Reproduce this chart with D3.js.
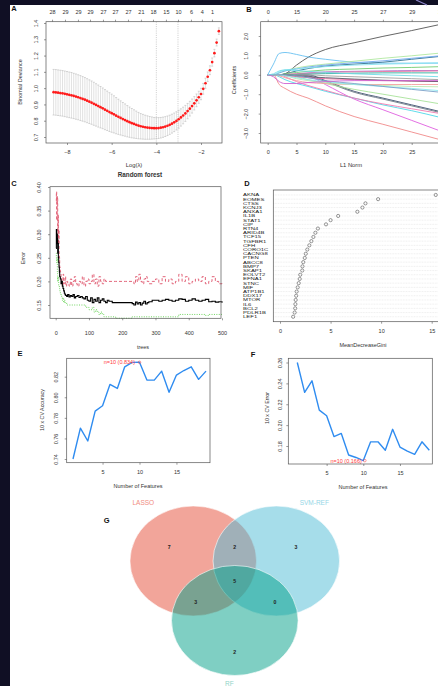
<!DOCTYPE html>
<html>
<head>
<meta charset="utf-8">
<script src="https://cdn.jsdelivr.net/npm/d3@7"></script>
<style>
  body { margin: 0; background: #100f24; }
  svg { display: block; }
  text { font-family: "Liberation Sans", Arial, sans-serif; }
</style>
</head>
<body>
<svg id="fig" width="438" height="686"></svg>
<script>
// ---------- A: LASSO cross-validation ----------
const lassoLogLambda = [-8.6,-8.5,-8.4,-8.3,-8.2,-8.1,-8.0,-7.9,-7.8,-7.7,-7.6,-7.5,-7.4,-7.3,-7.2,-7.1,-7.0,
  -6.9,-6.8,-6.7,-6.6,-6.5,-6.4,-6.3,-6.2,-6.1,-6.0,-5.9,-5.8,-5.7,-5.6,-5.5,-5.4,-5.3,-5.2,-5.1,-5.0,
  -4.9,-4.8,-4.7,-4.6,-4.5,-4.4,-4.3,-4.2,-4.1,-4.0,-3.9,-3.8,-3.7,-3.6,-3.5,-3.4,-3.3,-3.2,-3.1,-3.0,
  -2.9,-2.8,-2.7,-2.6,-2.5,-2.4,-2.3,-2.2,-2.1,-2.0,-1.9,-1.8,-1.7,-1.6,-1.5,-1.4,-1.3,-1.2];
const lassoMean = [.975,.974,.972,.970,.968,.965,.962,
  .959,.956,.952,.948,.944,.939,.934,.929,.923,.917,
  .911,.904,.897,.890,.883,.876,.868,.861,.853,.846,
  .839,.831,.824,.817,.810,.804,.797,.791,.785,.780,
  .775,.770,.766,.763,.760,.758,.756,.755,.754,.754,
  .755,.757,.760,.764,.769,.775,.782,.790,.799,.809,
  .820,.832,.845,.859,.874,.890,.907,.925,.944,.964,
  .996,1.03,1.07,1.11,1.16,1.215,1.28,1.35];
const lassoSE = [.140,.140,.140,.140,.140,.140,.140,
  .140,.140,.139,.139,.138,.138,.137,.136,.135,.134,
  .133,.132,.130,.129,.127,.125,.123,.121,.119,.117,
  .114,.111,.108,.105,.102,.099,.096,.093,.090,.087,
  .084,.081,.078,.076,.074,.072,.070,.068,.066,.065,
  .064,.063,.062,.061,.060,.059,.058,.057,.056,.055,
  .053,.051,.049,.047,.045,.043,.041,.039,.037,.035,
  .033,.031,.029,.027,.025,.023,.021,.020];
const lassoTopLambda = [-8.67,-8.09,-7.51,-6.97,-6.39,-5.85,-5.27,-4.69,-4.15,-3.57,-3.03,-2.45,-1.96,-1.51];
const lassoTopCount = [28,29,29,29,27,27,27,21,18,15,10,6,4,1];
const lassoCutoffs = [-4.0, -3.03];

// ---------- B: coefficient paths ----------
const l1Grid = [0,1,2,3,5,7,10,15,20,25,30];
const coefPaths = [
  [0,0,0,0.05,0.5,0.9,1.3,1.65,1.98,2.28,2.6],
  [0,0.55,1.1,1.15,1.05,0.92,0.8,0.65,0.6,0.6,0.6],
  [0,0,-0.5,-0.7,-1.0,-1.2,-1.6,-2.15,-2.55,-2.95,-3.35],
  [0,0,0,0,0,-0.05,-0.5,-1.25,-1.8,-2.35,-2.9],
  [0,0,-0.1,-0.25,-0.45,-0.6,-0.85,-1.2,-1.55,-1.85,-2.2],
  [0,0,0,0,0,0,-0.3,-0.85,-1.2,-1.55,-1.9],
  [0,0,0,0,0,-0.05,-0.35,-0.9,-1.25,-1.6,-1.95],
  [0,0,0,0,-0.1,-0.25,-0.45,-0.75,-1.0,-1.25,-1.5],
  [0,0,0,-0.1,-0.35,-0.55,-0.8,-1.2,-1.5,-1.75,-2.0],
  [0,0,0.1,0.2,0.35,0.45,0.55,0.7,0.85,0.98,1.12],
  [0,0,0,0.05,0.2,0.32,0.45,0.55,0.65,0.8,0.95],
  [0,0,0.1,0.2,0.3,0.4,0.5,0.62,0.72,0.85,0.98],
  [0,0,0.15,0.25,0.3,0.35,0.42,0.5,0.55,0.58,0.62],
  [0,0,0,0.05,0.12,0.18,0.25,0.3,0.35,0.38,0.42],
  [0,0,0,0,0.05,0.1,0.15,0.18,0.2,0.22,0.22],
  [0,0,0,0.02,0.05,0.08,0.12,0.15,0.17,0.18,0.2],
  [0,0,0,0,0.02,0.04,0.06,0.08,0.1,0.1,0.1],
  [0,0,0,0,0,0,-0.05,-0.1,-0.15,-0.2,-0.25],
  [0,0,0,-0.05,-0.1,-0.15,-0.2,-0.25,-0.3,-0.32,-0.35],
  [0,0,0,0,-0.05,-0.1,-0.15,-0.22,-0.28,-0.32,-0.35],
  [0,0,-0.05,-0.15,-0.3,-0.4,-0.45,-0.5,-0.5,-0.5,-0.5],
  [0,0,0,-0.05,-0.2,-0.3,-0.4,-0.5,-0.55,-0.6,-0.62],
  [0,0,0,-0.05,-0.15,-0.25,-0.35,-0.5,-0.6,-0.7,-0.82],
  [0,0,0,0,-0.05,-0.15,-0.3,-0.45,-0.6,-0.75,-0.9],
  [0,-0.1,-0.35,-0.45,-0.45,-0.4,-0.35,-0.3,-0.3,-0.3,-0.3],
  [0,0.05,0.2,0.25,0.22,0.18,0.12,0.05,0,-0.05,-0.1]
];
const coefColors = ["#555555","#66bff0","#f08a8a","#e060e0","#4fd8e8","#3d4f6e","#6d7a86","#a8e29a",
  "#f07ab0","#b0e8a0","#2f7090","#6fa8ee","#88e4f0","#72cc72","#b070d0","#e878a0","#30b0a0","#a0a0a0",
  "#f46aa0","#5a5a6a","#f4a0a0","#bde8b0","#90eaf0","#7aa0c8","#d060d0","#70dce8"];
const l1TopTicks = [0,5,10,15,20,25,30];
const l1TopCount = [0,15,20,25,27,29,29];

// ---------- C: random forest error ----------
const rfTrees = [1,2,3,4,5,6,7,8,9,10,11,12,14,16,18,20,22,24,26,28,30,33,36,40,44,48,52,56,60,
  65,70,75,80,85,90,95,100,105,110,115,120,125,130,135,140,145,150,155,160,
  170,180,190,200,210,220,230,235,240,245,250,255,260,265,270,275,280,
  290,300,310,320,330,340,350,360,370,380,390,400,410,420,430,440,450,460,470,480,490,500];
const rfOOB = [.27,.31,.28,.30,.29,.26,.28,.25,.24,.23,.22,.21,
  .205,.195,.20,.19,.185,.18,.175,.172,.17,
  .168,.172,.167,.17,.168,.172,.165,.168,
  .17,.166,.168,.165,.163,.168,.16,.158,.165,.155,.162,.158,.165,.155,.16,.163,.158,.155,.16,.158,
  .155,.155,.155,.155,.155,.155,.153,
  .15,.156,.152,.155,.15,.154,.158,.152,.155,.157,
  .16,.16,.158,.16,.162,.16,.158,.16,.163,.162,.158,.16,.163,.16,.158,.16,.162,.157,.158,.156,.157,.155];
const rfClass1 = [.37,.39,.33,.36,.38,.30,.34,.28,.31,.26,.25,.23,
  .22,.21,.2,.19,.215,.195,.2,.21,.19,
  .2,.195,.19,.205,.19,.2,.21,.195,
  .19,.2,.195,.21,.19,.2,.205,.195,.2,.215,.195,.205,.19,.21,.2,.195,.205,.2,.2,.2,
  .2,.2,.2,.2,.2,.2,.2,
  .195,.21,.2,.215,.2,.195,.205,.21,.2,.195,
  .2,.205,.195,.21,.2,.205,.195,.2,.215,.2,.21,.195,.2,.205,.2,.21,.195,.2,.21,.2,.195,.2];
const rfClass0 = [.26,.25,.24,.25,.22,.2,.21,.2,.19,.19,.185,.18,
  .175,.17,.165,.16,.165,.155,.16,.155,.155,
  .15,.15,.15,.15,.15,.15,.15,.15,
  .15,.15,.15,.15,.15,.145,.145,.14,.14,.145,.135,.14,.135,.13,.135,.13,.125,.125,.125,.125,
  .125,.122,.122,.122,.122,.122,.125,
  .125,.125,.125,.125,.125,.125,.125,.125,.125,.125,
  .125,.125,.125,.125,.125,.125,.125,.125,.13,.13,.13,.13,.13,.13,.13,.13,.128,.13,.13,.13,.13,.13];

// ---------- D: variable importance ----------
const giniGenes = ["AKNA","EOMES","CTSS","KCNJ3","ANXA1","IL1B","STAT1","CIP","RTN4","ARID4B",
  "TCF15","TGFBR1","CFH","CORO1C","CACNG8","PTEN","ABCC8","BMP7","SKAP1","EOLVT2",
  "EFNA1","STNC","MIF","ATP1B1","DDX17","MTOR","IL6","BCL2","PDLR1B","LEF1"];
const giniValues = [15.4,9.7,8.45,8.15,7.65,5.75,5.0,4.55,3.75,3.5,
  3.3,3.1,2.9,2.7,2.55,2.45,2.3,2.22,2.2,2.0,
  1.95,1.85,1.75,1.65,1.6,1.55,1.52,1.5,1.45,1.3];

// ---------- E / F: SVM-RFE ----------
const nFeatures = [1,2,3,4,5,6,7,8,9,10,11,12,13,14,15,16,17,18,19];
const cvAccuracy = [.740,.770,.7575,.7866,.7918,.8125,.8086,.8296,.8339,.834,.8167,.8167,.8254,.8048,.8216,.826,.8296,.8174,.8254];
const cvError = [.260,.2314,.2425,.2144,.209,.189,.192,.1714,.169,.166,.184,.184,.176,.196,.179,.175,.172,.184,.176];
const bestN = 10;

// ---------- G: Venn ----------
const vennSets = ["LASSO","SVM-REF","RF"];
const vennRegions = ["LASSO","LASSO&SVM-REF","SVM-REF","all","LASSO&RF","SVM-REF&RF","RF"];
const vennCounts = [7,2,3,5,3,0,2];

// ================= drawing =================
const svg = d3.select("#fig");
svg.append("rect").attr("width", 438).attr("height", 686).attr("fill", "#100f24");
svg.append("rect").attr("x", 10).attr("y", 5).attr("width", 428).attr("height", 681).attr("fill", "#fff");
svg.append("line").attr("x1", 416).attr("y1", 0).attr("x2", 427).attr("y2", 5)
  .attr("stroke", "#8b84c8").attr("stroke-width", 1.2);

const tickFont = 5.5, ink = "#333", boxCol = "#555";

function styleAxis(g) {
  g.select(".domain").remove();
  g.selectAll(".tick line").attr("stroke", boxCol).attr("stroke-width", 0.6);
  g.selectAll(".tick text").attr("font-size", tickFont).attr("fill", ink);
}
function rotateLabels(g, off) {
  g.selectAll(".tick text")
    .attr("transform", `translate(${-off},0) rotate(-90)`)
    .attr("x", 0).attr("y", 0).attr("dy", 0).attr("text-anchor", "middle");
}
function box(x0, y0, x1, y1) {
  svg.append("rect").attr("x", x0).attr("y", y0).attr("width", x1 - x0).attr("height", y1 - y0)
    .attr("fill", "none").attr("stroke", boxCol).attr("stroke-width", 0.7);
}
function label(t, x, y, size, opts = {}) {
  const el = svg.append("text").attr("x", x).attr("y", y).attr("dy", "0.35em")
    .attr("font-size", size).attr("fill", opts.fill || ink)
    .attr("text-anchor", opts.anchor || "middle").text(t);
  if (opts.rotate) el.attr("transform", `rotate(-90,${x},${y})`);
  if (opts.bold) el.attr("font-weight", "bold");
  return el;
}
function panelLetter(t, x, y) {
  svg.append("text").attr("x", x).attr("y", y).attr("dy", "0.35em")
    .attr("font-family", "'Liberation Serif', 'DejaVu Serif', serif").attr("font-weight", "bold")
    .attr("font-size", 7.5).attr("fill", "#111").attr("text-anchor", "middle").text(t);
}

// ---- Panel A ----
{
  const x = d3.scaleLinear().domain([-8, -2]).range([67, 201]);
  const y = d3.scaleLinear().domain([0.7, 1.4]).range([137, 23]);
  const gA = svg.append("g");
  lassoCutoffs.forEach(v => gA.append("line").attr("x1", x(v)).attr("x2", x(v)).attr("y1", 21.7).attr("y2", 143)
    .attr("stroke", "#aaa").attr("stroke-width", 0.6).attr("stroke-dasharray", "1,1.2"));
  const bars = gA.selectAll(".eb").data(lassoLogLambda).join("g").attr("class", "eb");
  bars.append("line").attr("x1", d => x(d)).attr("x2", d => x(d))
    .attr("y1", (d, i) => y(lassoMean[i] + lassoSE[i])).attr("y2", (d, i) => y(lassoMean[i] - lassoSE[i]))
    .attr("stroke", "#c4c4c4").attr("stroke-width", 0.5);
  [1, -1].forEach(s => bars.append("line").attr("x1", d => x(d) - 1).attr("x2", d => x(d) + 1)
    .attr("y1", (d, i) => y(lassoMean[i] + s * lassoSE[i])).attr("y2", (d, i) => y(lassoMean[i] + s * lassoSE[i]))
    .attr("stroke", "#b8b8b8").attr("stroke-width", 0.6));
  gA.selectAll(".pt").data(lassoLogLambda).join("circle").attr("class", "pt")
    .attr("cx", d => x(d)).attr("cy", (d, i) => y(lassoMean[i])).attr("r", 1.35).attr("fill", "#ff1a1a");
  box(46, 21.7, 222, 143);
  svg.append("g").attr("transform", "translate(0,143)")
    .call(d3.axisBottom(x).tickValues([-8, -6, -4, -2]).tickFormat(d3.format("d")).tickSize(2).tickPadding(5))
    .call(styleAxis);
  svg.append("g").attr("transform", "translate(46,0)")
    .call(d3.axisLeft(y).tickValues([0.7, 0.8, 0.9, 1.0, 1.1, 1.2, 1.3, 1.4]).tickFormat(d3.format(".1f")).tickSize(2))
    .call(styleAxis).call(g => rotateLabels(g, 8.5));
  svg.append("g").attr("transform", "translate(0,21.7)")
    .call(d3.axisTop(x).tickValues(lassoTopLambda).tickFormat((d, i) => lassoTopCount[i]).tickSize(2).tickPadding(5.5))
    .call(styleAxis);
  label("Binomial Deviance", 20, 82, 5.5, { rotate: true });
  label("Log(\u03bb)", 134, 165, 5.8);
  panelLetter("A", 14, 8.5);
}

// ---- Panel B ----
{
  const x = d3.scaleLinear().domain([0, 25]).range([267.7, 411.7]);
  const y = d3.scaleLinear().domain([-3, 2]).range([133, 36]);
  svg.append("clipPath").attr("id", "clipB").append("rect")
    .attr("x", 260.7).attr("y", 21.7).attr("width", 190).attr("height", 121.3);
  const line = d3.line().x((d, i) => x(l1Grid[i])).y(d => y(d)).curve(d3.curveMonotoneX);
  svg.append("g").attr("clip-path", "url(#clipB)")
    .selectAll("path").data(coefPaths).join("path")
    .attr("d", line).attr("fill", "none")
    .attr("stroke", (d, i) => coefColors[i]).attr("stroke-width", 0.9);
  box(260.7, 21.7, 448, 143);
  svg.append("g").attr("transform", "translate(0,143)")
    .call(d3.axisBottom(x).tickValues([0, 5, 10, 15, 20, 25]).tickSize(2).tickPadding(5)).call(styleAxis);
  svg.append("g").attr("transform", "translate(260.7,0)")
    .call(d3.axisLeft(y).tickValues([-3, -2, -1, 0, 1, 2]).tickSize(2))
    .call(styleAxis).call(g => rotateLabels(g, 12.5));
  svg.append("g").attr("transform", "translate(0,21.7)")
    .call(d3.axisTop(x).tickValues(l1TopTicks).tickFormat((d, i) => l1TopCount[i]).tickSize(2).tickPadding(5.5))
    .call(styleAxis);
  label("Coefficients", 234, 80, 5.5, { rotate: true });
  label("L1 Norm", 351, 165, 5.8);
  panelLetter("B", 249, 9);
}

// ---- Panel C ----
{
  const x = d3.scaleLinear().domain([0, 500]).range([55.7, 222]);
  const y = d3.scaleLinear().domain([0.15, 0.40]).range([305, 187]);
  const step = d3.line().x((d, i) => x(rfTrees[i])).y(d => y(d)).curve(d3.curveStepAfter);
  const gC = svg.append("g");
  gC.append("path").attr("d", step(rfClass0)).attr("fill", "none").attr("stroke", "#61D04F")
    .attr("stroke-width", 0.9).attr("stroke-dasharray", "1,1.4");
  gC.append("path").attr("d", step(rfClass1)).attr("fill", "none").attr("stroke", "#DF536B")
    .attr("stroke-width", 0.9).attr("stroke-dasharray", "3,2");
  gC.append("path").attr("d", step(rfOOB)).attr("fill", "none").attr("stroke", "#000")
    .attr("stroke-width", 1.1);
  box(50, 186.7, 221, 318.3);
  svg.append("g").attr("transform", "translate(0,318.3)")
    .call(d3.axisBottom(x).tickValues([0, 100, 200, 300, 400, 500]).tickSize(2).tickPadding(11)).call(styleAxis);
  svg.append("g").attr("transform", "translate(50,0)")
    .call(d3.axisLeft(y).tickValues([0.15, 0.20, 0.25, 0.30, 0.35, 0.40]).tickFormat(d3.format(".2f")).tickSize(2))
    .call(styleAxis).call(g => rotateLabels(g, 9.5));
  label("Random forest", 140, 175, 6.3, { bold: true });
  label("Error", 23, 258, 5.5, { rotate: true });
  label("trees", 143, 347, 5.5);
  panelLetter("C", 14, 183);
}

// ---- Panel D ----
{
  const x = d3.scaleLinear().domain([0, 15]).range([280, 431.7]);
  const y = d3.scalePoint().domain(giniGenes).range([190, 321.7]).padding(1.18);
  const gD = svg.append("g");
  gD.selectAll(".grid").data(giniGenes).join("line").attr("class", "grid")
    .attr("x1", 273.3).attr("x2", 438).attr("y1", d => y(d)).attr("y2", d => y(d))
    .attr("stroke", "#cfcfcf").attr("stroke-width", 0.4).attr("stroke-dasharray", "0.8,0.8");
  gD.selectAll(".dot").data(giniGenes).join("circle").attr("class", "dot")
    .attr("cx", (d, i) => x(giniValues[i])).attr("cy", d => y(d)).attr("r", 1.6)
    .attr("fill", "none").attr("stroke", "#444").attr("stroke-width", 0.55);
  // gene names: short, wide glyphs packed into the 4.2px rows
  gD.selectAll(".gene").data(giniGenes).join("text").attr("class", "gene")
    .attr("transform", d => `translate(243,${y(d)}) scale(1.35,1)`)
    .attr("dy", "0.33em").attr("font-size", 4.4).attr("fill", "#222").text(d => d);
  box(273.3, 190, 446, 321.7);
  svg.append("g").attr("transform", "translate(0,321.7)")
    .call(d3.axisBottom(x).tickValues([0, 5, 10, 15]).tickSize(2).tickPadding(5)).call(styleAxis);
  label("MeanDecreaseGini", 363, 345, 5.5);
  panelLetter("D", 247, 183);
}

// ---- Panels E and F ----
function rfePanel(vals, o) {
  const x = d3.scaleLinear().domain([1, 19]).range(o.xr);
  const y = d3.scaleLinear().domain(o.yd).range(o.yr);
  svg.append("path").datum(vals)
    .attr("d", d3.line().x((d, i) => x(nFeatures[i])).y(d => y(d)))
    .attr("fill", "none").attr("stroke", "#2f8cf0").attr("stroke-width", 1.4).attr("stroke-linejoin", "round");
  const bi = nFeatures.indexOf(bestN);
  svg.append("circle").attr("cx", x(bestN) + o.markDx).attr("cy", y(vals[bi])).attr("r", 1.3)
    .attr("fill", "none").attr("stroke", "#ff3b3b").attr("stroke-width", 0.5);
  label(`n=${bestN} (${vals[bi].toFixed(3)})`, x(bestN) - o.textDx, y(vals[bi]), 5.5, { anchor: "end", fill: "#ff3b3b" });
  box(o.box[0], o.box[1], o.box[2], o.box[3]);
  svg.append("g").attr("transform", `translate(0,${o.box[3]})`)
    .call(d3.axisBottom(x).tickValues([5, 10, 15]).tickSize(2).tickPadding(5)).call(styleAxis);
  svg.append("g").attr("transform", `translate(${o.box[0]},0)`)
    .call(d3.axisLeft(y).tickValues(o.yt).tickFormat(d3.format(".2f")).tickSize(2))
    .call(styleAxis).call(g => rotateLabels(g, o.yOff));
}
rfePanel(cvAccuracy, {
  xr: [73, 206], yd: [0.74, 0.82], yr: [459, 376.7], yt: [0.74, 0.76, 0.78, 0.80, 0.82],
  box: [66.7, 358.3, 210, 462.7], yOff: 8.5, textDx: 4.5, markDx: 0
});
label("10 x CV Accuracy", 41.7, 410, 5.3, { rotate: true });
label("Number of Features", 138, 486, 5.5);
panelLetter("E", 20, 353);

rfePanel(cvError, {
  xr: [297.3, 429.3], yd: [0.18, 0.26], yr: [446, 362.5], yt: [0.18, 0.20, 0.22, 0.24, 0.26],
  box: [288.3, 358.3, 432.3, 464], yOff: 6, textDx: 1.5, markDx: 1.5
});
label("10 x CV Error", 266.7, 408, 5.3, { rotate: true });
label("Number of Features", 363, 486.7, 5.5);
panelLetter("F", 253, 354);

// ---- Panel G: Venn ----
{
  const vx = d3.scaleLinear().domain([0, 1]).range([234.8, 298.1]);
  const vy = d3.scaleLinear().domain([0, 1]).range([581, 636]);
  const setCenter = [[-0.656, -0.364], [0.656, -0.364], [0, 0.718]];
  const setFill = ["#E64B35", "#4DBBD5", "#00A087"];
  const setText = ["#f08c80", "#95d6e6", "#8fd4c8"];
  const setLabelPos = [[-1.445, -1.424], [1.256, -1.424], [-0.087, 1.86]];
  const regionPos = [[-1.035, -0.624], [0, -0.624], [0.967, -0.624], [0, 0], [-0.618, 0.376], [0.635, 0.376], [0, 1.296]];
  const gG = svg.append("g");
  gG.selectAll("ellipse").data(vennSets).join("ellipse")
    .attr("cx", (d, i) => vx(setCenter[i][0])).attr("cy", (d, i) => vy(setCenter[i][1]))
    .attr("rx", vx(1) - vx(0)).attr("ry", vy(1) - vy(0))
    .attr("fill", (d, i) => setFill[i]).attr("fill-opacity", 0.5)
    .attr("stroke", "#fff").attr("stroke-width", 0.6);
  gG.selectAll(".cnt").data(vennCounts).join("text").attr("class", "cnt")
    .attr("x", (d, i) => vx(regionPos[i][0])).attr("y", (d, i) => vy(regionPos[i][1])).attr("dy", "0.35em")
    .attr("text-anchor", "middle").attr("font-size", 5.2).attr("font-weight", "bold").attr("fill", "#222")
    .text(d => d);
  gG.selectAll(".setl").data(vennSets).join("text").attr("class", "setl")
    .attr("x", (d, i) => vx(setLabelPos[i][0])).attr("y", (d, i) => vy(setLabelPos[i][1])).attr("dy", "0.35em")
    .attr("text-anchor", "middle").attr("font-size", 6.5).attr("fill", (d, i) => setText[i])
    .text(d => d);
  panelLetter("G", 106.7, 520);
}
</script>
</body>
</html>
